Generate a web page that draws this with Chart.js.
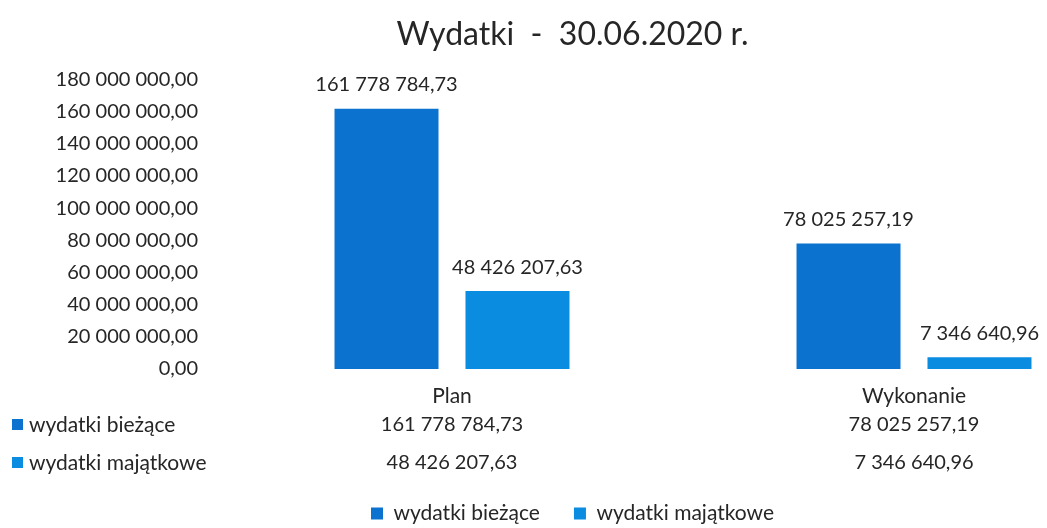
<!DOCTYPE html>
<html>
<head>
<meta charset="utf-8">
<script src="https://cdn.jsdelivr.net/npm/chart.js@4/dist/chart.umd.min.js"></script>
<style>
  html, body { margin: 0; padding: 0; background: #fff; overflow: hidden; }
  #wrap { width: 1047px; height: 528px; overflow: hidden; }
  #chart { display: block; }
</style>
</head>
<body>
<div id="wrap"><canvas id="chart" width="1150" height="534"></canvas></div>
<script>
// Data
const categories = ["Plan", "Wykonanie"];
const seriesNames = ["wydatki bieżące", "wydatki majątkowe"];
const biezace = [161778784.73, 78025257.19];
const majatkowe = [48426207.63, 7346640.96];
const yTicks = [0, 20000000, 40000000, 60000000, 80000000, 100000000, 120000000, 140000000, 160000000, 180000000];

const colors = ["#0b73cf", "#0a8ce0"];
const textColor = "#262626";
const FONT = "Lato";

function fmt(v) {
    let parts = v.toFixed(2).split(".");
    let int = parts[0].replace(/\B(?=(\d{3})+(?!\d))/g, " ");
    return int + "," + parts[1];
}

// Data labels above bars + data table under the axis
const extras = {
    id: "extras",
    afterDatasetsDraw(chart) {
        const ctx = chart.ctx;
        ctx.save();
        ctx.font = "20px " + FONT;
        ctx.fillStyle = textColor;
        ctx.textAlign = "center";
        ctx.textBaseline = "middle";
        chart.data.datasets.forEach((ds, di) => {
            chart.getDatasetMeta(di).data.forEach((bar, i) => {
                ctx.fillText(fmt(ds.data[i]), bar.x, bar.y - 24);
            });
        });

        // table
        const x = chart.scales.x;
        const rows = [biezace, majatkowe];
        const rowY = [chart.chartArea.bottom + 56, chart.chartArea.bottom + 94];
        rows.forEach((vals, r) => {
            ctx.fillStyle = colors[r];
            ctx.fillRect(12, rowY[r] - 6, 11, 11);
            ctx.fillStyle = textColor;
            ctx.textAlign = "left";
            ctx.font = "21px " + FONT;
            ctx.fillText(seriesNames[r], 29, rowY[r]);
            ctx.textAlign = "center";
            ctx.font = "20px " + FONT;
            vals.forEach((v, i) => {
                ctx.fillText(fmt(v), x.getPixelForValue(i), rowY[r]);
            });
        });
        ctx.restore();
    }
};

new Chart("chart", {
    type: "bar",
    data: {
        labels: categories,
        datasets: [{
            label: seriesNames[0],
            data: biezace,
            backgroundColor: colors[0],
            categoryPercentage: 0.567,
            barPercentage: 0.794
        }, {
            label: seriesNames[1],
            data: majatkowe,
            backgroundColor: colors[1],
            categoryPercentage: 0.567,
            barPercentage: 0.794
        }]
    },
    options: {
        responsive: false,
        animation: false,
        layout: { padding: { left: 0, right: 5, top: 0, bottom: 0 } },
        plugins: {
            title: {
                display: true,
                text: "Wydatki  -  30.06.2020 r.",
                color: textColor,
                font: { family: FONT, size: 32, weight: "normal" },
                padding: { top: 15, bottom: 26 }
            },
            legend: {
                display: true,
                position: "bottom",
                labels: {
                    color: textColor,
                    font: { family: FONT, size: 21 },
                    boxWidth: 12,
                    boxHeight: 12,
                    padding: 34
                }
            },
            tooltip: { enabled: false }
        },
        scales: {
            x: {
                grid: { display: false },
                border: { display: false },
                ticks: {
                    color: textColor,
                    font: { family: FONT, size: 21 },
                    padding: 7
                },
                afterFit(scale) { scale.height = 100; }
            },
            y: {
                min: 0,
                max: 180000000,
                grid: { display: false },
                border: { display: false },
                afterBuildTicks(scale) { scale.ticks = yTicks.map(v => ({ value: v })); },
                afterFit(scale) { scale.width = 221; },
                ticks: {
                    color: textColor,
                    font: { family: FONT, size: 20 },
                    padding: 15,
                    callback: v => fmt(v)
                }
            }
        }
    },
    plugins: [extras]
});
</script>
</body>
</html>
